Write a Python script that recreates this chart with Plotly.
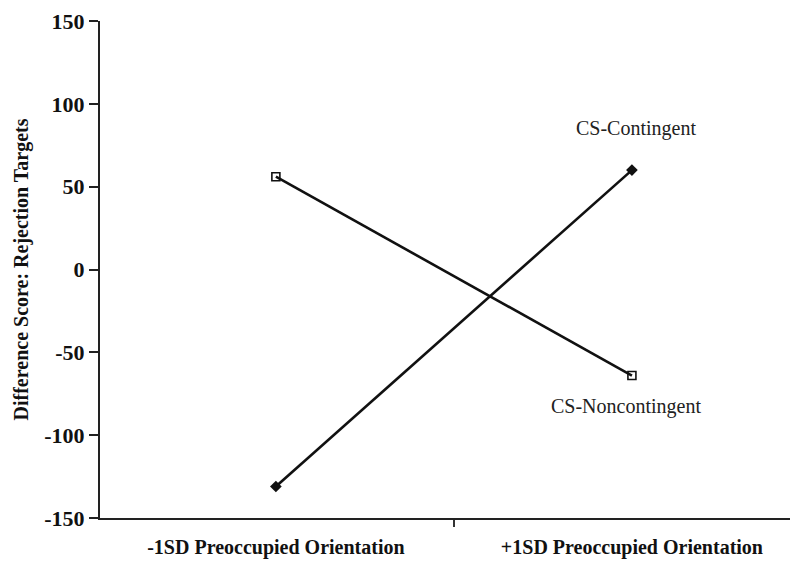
import plotly.graph_objects as go

categories = ["-1SD Preoccupied Orientation", "+1SD Preoccupied Orientation"]
x_pos = [0, 1]
cs_contingent = [-131, 60]
cs_noncontingent = [56, -64]
y_ticks = [-150, -100, -50, 0, 50, 100, 150]
y_tick_text = ["-150", "-100", "-50", "0", "50", "100", "150"]

fig = go.Figure()
fig.add_trace(go.Scatter(
    x=x_pos, y=cs_noncontingent, mode="lines+markers",
    line=dict(color="#111", width=2.6),
    marker=dict(symbol="square-open", size=8, color="#111", line=dict(width=1.6)),
    showlegend=False))
fig.add_trace(go.Scatter(
    x=x_pos, y=cs_contingent, mode="lines+markers",
    line=dict(color="#111", width=2.6),
    marker=dict(symbol="diamond", size=9, color="#111"),
    showlegend=False))

fig.add_annotation(x=x_pos[1], y=cs_contingent[1], text="CS-Contingent",
                   showarrow=False, xanchor="center", yanchor="middle", yshift=42, xshift=4,
                   font=dict(family="Liberation Serif", size=20, color="#222"))
fig.add_annotation(x=x_pos[1], y=cs_noncontingent[1], text="CS-Noncontingent",
                   showarrow=False, xanchor="center", yanchor="middle", yshift=-31, xshift=-6,
                   font=dict(family="Liberation Serif", size=20, color="#222"))

fig.update_layout(
    width=799, height=562,
    margin=dict(l=92, r=17, t=13, b=52),
    paper_bgcolor="white", plot_bgcolor="white",
    font=dict(family="Liberation Serif", color="#111"),
    xaxis=dict(range=[-0.494, 1.444], tickvals=x_pos, ticktext=categories,
               ticks="", showgrid=False, zeroline=False, automargin=False,
               ticklabeloverflow="allow",
               showline=True, linecolor="#222", linewidth=2,
               ticklabelstandoff=10,
               tickfont=dict(family="Liberation Serif", size=20, color="#111", weight="bold"),
               minor=dict(ticks="outside", tick0=0.5, dtick=1, ticklen=7,
                          tickcolor="#333", tickwidth=1.5, showgrid=False)),
    yaxis=dict(range=[-150, 150], tickvals=y_ticks, ticktext=y_tick_text,
               showgrid=False, zeroline=False, automargin=False,
               ticklabeloverflow="allow",
               showline=True, linecolor="#222", linewidth=2,
               ticks="outside", ticklen=9, tickcolor="#222", tickwidth=1.5,
               tickfont=dict(family="Liberation Serif", size=22, color="#111", weight="bold"),
               title=dict(text="<b>Difference Score: Rejection Targets</b>", standoff=10,
                          font=dict(family="Liberation Serif", size=20, color="#111"))),
)

fig.write_html("out.html")
